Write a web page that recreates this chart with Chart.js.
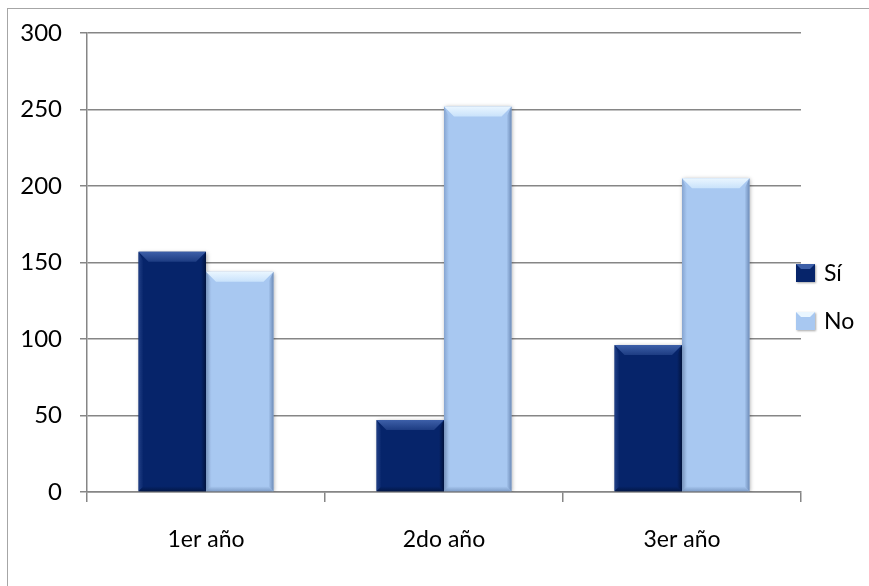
<!DOCTYPE html>
<html lang="es">
<head>
<meta charset="utf-8">
<title>Respuestas por año</title>
<script src="https://cdn.jsdelivr.net/npm/chart.js@4.4.0/dist/chart.umd.min.js"></script>
<style>
    html, body { margin: 0; padding: 0; background: #fff; overflow: hidden; }
    #marco {
        position: absolute;
        left: 7px;
        top: 8px;
        width: 900px;
        height: 620px;
        border-left: 1px solid #a6a6a6;
        border-top: 1px solid #a6a6a6;
    }
    #contenedor { position: absolute; left: 0; top: 0; width: 869px; height: 586px; }
</style>
</head>
<body>
<div id="marco"></div>
<div id="contenedor"><canvas id="grafico" width="869" height="586"></canvas></div>
<script>
const categorias = ['1er año', '2do año', '3er año'];
const valoresSi = [157, 47, 96];
const valoresNo = [144, 252, 205];
const seriesNombres = ['Sí', 'No'];

const colorSi = '#06246a';
const colorNo = '#a8c8f1';
const colorLinea = '#868686';
const fuente = 'Lato, "Open Sans", sans-serif';
const tamFuente = 24;

// sombra suave detrás de las barras
const sombraBarras = {
    id: 'sombraBarras',
    beforeDatasetsDraw(chart) {
        const ctx = chart.ctx;
        ctx.save();
        ctx.shadowColor = 'rgba(0,0,0,0.35)';
        ctx.shadowBlur = 4;
        ctx.shadowOffsetX = 1;
        ctx.shadowOffsetY = 1;
    },
    afterDatasetsDraw(chart) {
        chart.ctx.restore();
    }
};

// biselado estilo Office sobre cada barra
const bisel = {
    id: 'bisel',
    afterDatasetsDraw(chart) {
        const ctx = chart.ctx;
        chart.data.datasets.forEach((ds, i) => {
            const meta = chart.getDatasetMeta(i);
            const oscuro = i === 0;
            meta.data.forEach((bar) => {
                const p = bar.getProps(['x', 'y', 'base', 'width'], true);
                const L = p.x - p.width / 2;
                const R = p.x + p.width / 2;
                const T = p.y;
                const B = p.base;
                const d = Math.min(10, (B - T) / 2);
                const s = 5;
                ctx.save();

                // cara superior
                let g = ctx.createLinearGradient(0, T, 0, T + d);
                if (oscuro) {
                    g.addColorStop(0, '#3d5fa8');
                    g.addColorStop(1, '#1d3c82');
                } else {
                    g.addColorStop(0, '#eaf6ff');
                    g.addColorStop(1, '#c9e2fb');
                }
                ctx.fillStyle = g;
                ctx.beginPath();
                ctx.moveTo(L, T);
                ctx.lineTo(R, T);
                ctx.lineTo(R - d, T + d);
                ctx.lineTo(L + d, T + d);
                ctx.closePath();
                ctx.fill();

                // borde izquierdo
                g = ctx.createLinearGradient(L, 0, L + s, 0);
                g.addColorStop(0, oscuro ? 'rgba(40,70,140,0.8)' : 'rgba(120,150,195,0.7)');
                g.addColorStop(1, oscuro ? 'rgba(40,70,140,0)' : 'rgba(120,150,195,0)');
                ctx.fillStyle = g;
                ctx.beginPath();
                ctx.moveTo(L, T);
                ctx.lineTo(L + s, T + d);
                ctx.lineTo(L + s, B - s);
                ctx.lineTo(L, B);
                ctx.closePath();
                ctx.fill();

                // borde derecho
                g = ctx.createLinearGradient(R, 0, R - s, 0);
                g.addColorStop(0, oscuro ? 'rgba(0,15,50,0.8)' : 'rgba(100,130,175,0.85)');
                g.addColorStop(1, oscuro ? 'rgba(0,15,50,0)' : 'rgba(100,130,175,0)');
                ctx.fillStyle = g;
                ctx.beginPath();
                ctx.moveTo(R, T);
                ctx.lineTo(R, B);
                ctx.lineTo(R - s, B - s);
                ctx.lineTo(R - s, T + d);
                ctx.closePath();
                ctx.fill();

                // borde inferior
                g = ctx.createLinearGradient(0, B, 0, B - s);
                g.addColorStop(0, oscuro ? 'rgba(0,15,50,0.6)' : 'rgba(100,130,175,0.6)');
                g.addColorStop(1, oscuro ? 'rgba(0,15,50,0)' : 'rgba(100,130,175,0)');
                ctx.fillStyle = g;
                ctx.beginPath();
                ctx.moveTo(L, B);
                ctx.lineTo(R, B);
                ctx.lineTo(R - s, B - s);
                ctx.lineTo(L + s, B - s);
                ctx.closePath();
                ctx.fill();

                ctx.restore();
            });
        });
    }
};

// leyenda a la derecha, pegada al área del gráfico
const leyenda = {
    id: 'leyenda',
    afterDraw(chart) {
        const ctx = chart.ctx;
        const x = chart.chartArea.right - 5;
        let y = chart.height / 2 - 20;
        ctx.save();
        ctx.font = (tamFuente - 1) + 'px ' + fuente;
        ctx.textBaseline = 'middle';
        chart.data.datasets.forEach((ds, i) => {
            const oscuro = i === 0;
            ctx.fillStyle = ds.backgroundColor;
            ctx.shadowColor = 'rgba(0,0,0,0.35)';
            ctx.shadowBlur = 2;
            ctx.shadowOffsetX = 1;
            ctx.shadowOffsetY = 1;
            ctx.fillRect(x, y - 9, 19, 18);
            ctx.shadowColor = 'transparent';
            ctx.fillStyle = oscuro ? '#3d5fa8' : '#eaf6ff';
            ctx.beginPath();
            ctx.moveTo(x, y - 9);
            ctx.lineTo(x + 19, y - 9);
            ctx.lineTo(x + 14, y - 4);
            ctx.lineTo(x + 5, y - 4);
            ctx.closePath();
            ctx.fill();
            ctx.fillStyle = '#000';
            ctx.fillText(ds.label, x + 28, y + 1);
            y += 48;
        });
        ctx.restore();
    }
};

const ctxGrafico = document.getElementById('grafico').getContext('2d');
new Chart(ctxGrafico, {
    type: 'bar',
    data: {
        labels: categorias,
        datasets: [
            {
                label: seriesNombres[0],
                data: valoresSi,
                backgroundColor: colorSi,
                categoryPercentage: 0.567,
                barPercentage: 1
            },
            {
                label: seriesNombres[1],
                data: valoresNo,
                backgroundColor: colorNo,
                categoryPercentage: 0.567,
                barPercentage: 1
            }
        ]
    },
    options: {
        responsive: false,
        animation: false,
        layout: {
            padding: { left: 0, top: 33, right: 68, bottom: 0 }
        },
        plugins: {
            legend: { display: false },
            tooltip: { enabled: false }
        },
        scales: {
            x: {
                grid: {
                    drawOnChartArea: false,
                    drawTicks: true,
                    tickLength: 10,
                    color: colorLinea,
                    lineWidth: 1.5
                },
                border: { display: true, color: colorLinea, width: 1.5 },
                ticks: {
                    color: '#000',
                    font: { family: fuente, size: tamFuente - 1 },
                    padding: 24
                },
                afterFit(scale) { scale.height = 94; }
            },
            y: {
                min: 0,
                max: 300,
                ticks: {
                    stepSize: 50,
                    color: '#000',
                    font: { family: fuente, size: tamFuente },
                    padding: 18
                },
                grid: {
                    color: colorLinea,
                    lineWidth: 1.5,
                    tickLength: 7
                },
                border: { display: true, color: colorLinea, width: 1.5 },
                afterFit(scale) { scale.width = 87; }
            }
        }
    },
    plugins: [sombraBarras, bisel, leyenda]
});
</script>
</body>
</html>
